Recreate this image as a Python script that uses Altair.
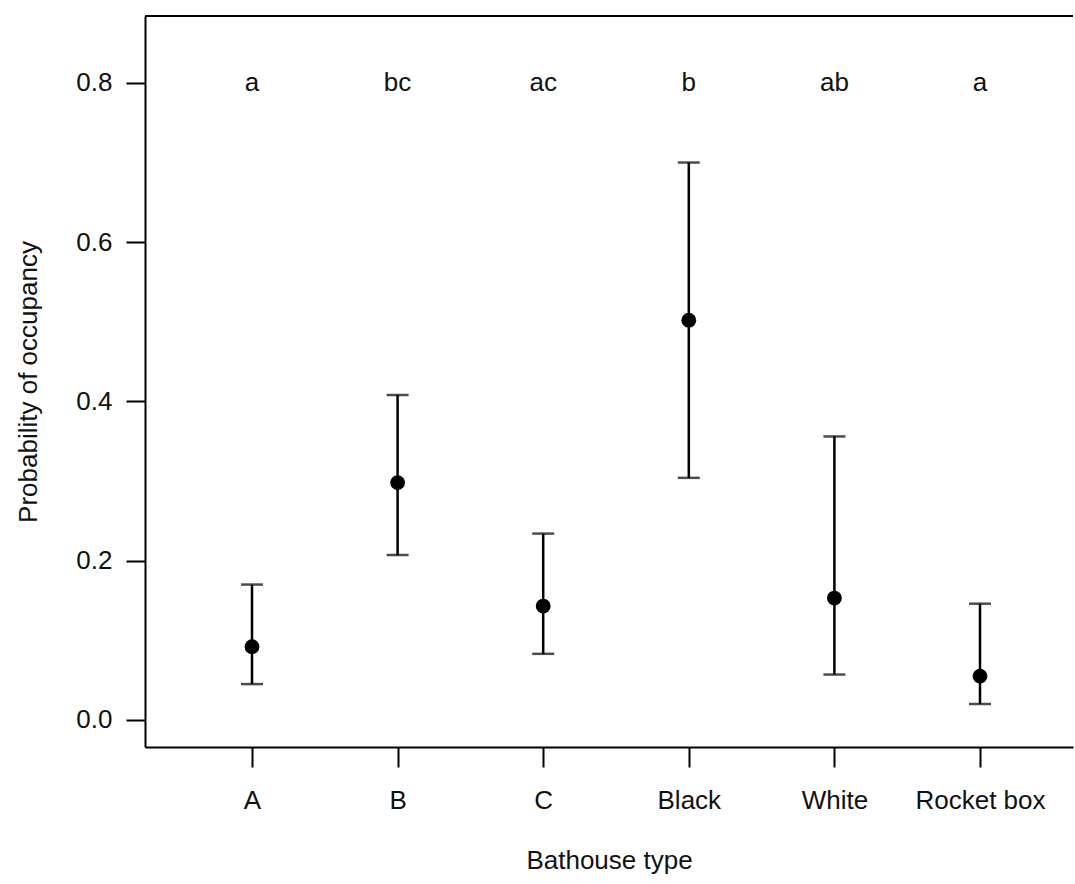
import altair as alt
import pandas as pd

categories = ["A", "B", "C", "Black", "White", "Rocket box"]
estimate = [0.092, 0.298, 0.143, 0.502, 0.153, 0.055]
lower = [0.045, 0.207, 0.083, 0.304, 0.057, 0.020]
upper = [0.170, 0.408, 0.234, 0.700, 0.356, 0.146]
letters = ["a", "bc", "ac", "b", "ab", "a"]
letter_y = [0.8] * 6

df = pd.DataFrame({
    "type": categories,
    "est": estimate,
    "lo": lower,
    "hi": upper,
    "letter": letters,
    "ly": letter_y,
})

W, H = 928, 731
FONT = "Liberation Sans"
FS = 26

xenc = alt.X(
    "type:N",
    sort=categories,
    scale=alt.Scale(type="point", padding=0.6868, align=0.535),
    axis=alt.Axis(
        title="Bathouse type",
        labelAngle=0,
        tickSize=20,
        tickWidth=2,
        tickColor="black",
        domainColor="black",
        domainWidth=2,
        labelPadding=20,
        titlePadding=34,
        labelFontSize=FS,
        titleFontSize=FS,
        labelFont=FONT,
        titleFont=FONT,
        titleFontWeight="normal",
        labelColor="#111",
        titleColor="#111",
        grid=False,
    ),
)

yscale = alt.Scale(domain=[-0.034, 0.884], nice=False, zero=False)
yaxis = alt.Axis(
    title="Probability of occupancy",
    values=[0, 0.2, 0.4, 0.6, 0.8],
    format=".1f",
    tickSize=19,
    tickWidth=2,
    tickColor="black",
    domainColor="black",
    domainWidth=2,
    labelPadding=14,
    titlePadding=34,
    labelFontSize=FS,
    titleFontSize=FS,
    labelFont=FONT,
    titleFont=FONT,
    titleFontWeight="normal",
    labelColor="#111",
    titleColor="#111",
    grid=False,
)

base = alt.Chart(df)

bars = base.mark_rule(color="black", strokeWidth=2.5).encode(
    x=xenc,
    y=alt.Y("lo:Q", scale=yscale, axis=yaxis),
    y2="hi:Q",
)

cap_hi = base.mark_tick(color="black", size=22, thickness=2.5, orient="horizontal").encode(
    x=alt.X("type:N", sort=categories), y="hi:Q"
)
cap_lo = base.mark_tick(color="black", size=22, thickness=2.5, orient="horizontal").encode(
    x=alt.X("type:N", sort=categories), y="lo:Q"
)

points = base.mark_point(filled=True, color="black", size=220, opacity=1, shape="circle").encode(
    x=alt.X("type:N", sort=categories), y="est:Q"
)

text = base.mark_text(font=FONT, fontSize=FS, color="#111", baseline="middle", align="center").encode(
    x=alt.X("type:N", sort=categories), y="ly:Q", text="letter:N"
)

top_line = alt.Chart(pd.DataFrame({"k": [0]})).mark_rule(color="black", strokeWidth=2).encode(
    y=alt.value(0), x=alt.value(0), x2=alt.value(W)
)

chart = alt.layer(bars, cap_hi, cap_lo, points, text, top_line).properties(
    width=W,
    height=H,
    autosize=alt.AutoSizeParams(type="none"),
    padding={"left": 145, "top": 16, "right": 2, "bottom": 137},
    background="white",
).configure_view(stroke=None)

chart.save("out.html", embed_options={"renderer": "svg", "actions": False})
